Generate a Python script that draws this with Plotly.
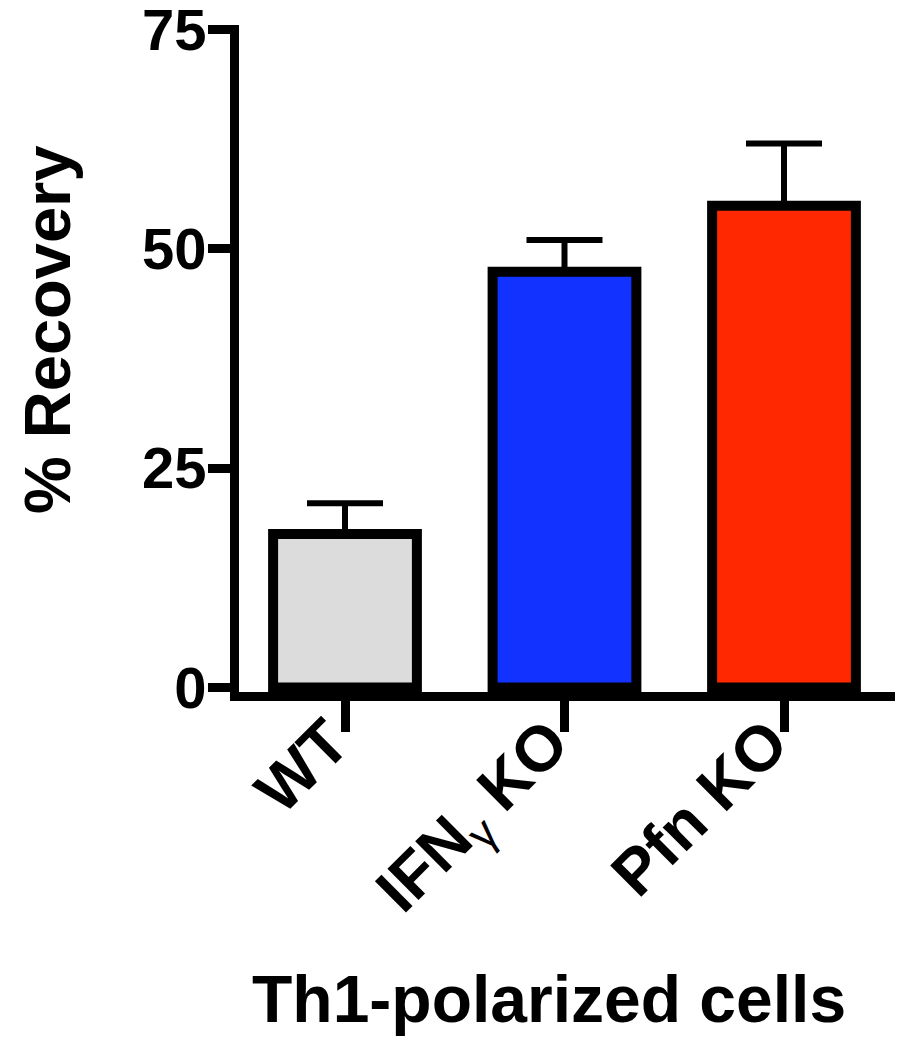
import plotly.graph_objects as go

categories = ["WT", "IFN<sub><span style=\"font-weight:normal\">γ</span></sub> KO", "Pfn KO"]
values = [17.5, 47.4, 54.9]
errors_up = [3.5, 3.6, 7.1]
colors = ["#DCDCDC", "#1232FF", "#FF2800"]
y_ticks = [0, 25, 50, 75]
x_title = "Th1-polarized cells"
y_title = "% Recovery"

W, H = 909, 1050
L, R, T, B = 231, 22, 17, 366
FONT = "Liberation Sans"

pw = W - L - R
ph = H - T - B
# axis scales (px per unit)
y_scale = 8.773
x_scale = 219.5
y_lo = -4.5 / y_scale
y_hi = y_lo + ph / y_scale
x_lo = -0.5 + 3.75 / x_scale
x_hi = x_lo + pw / x_scale

fig = go.Figure()
fig.add_trace(go.Bar(
    x=categories, y=values, width=0.655,
    marker=dict(color=colors, line=dict(color="black", width=10)),
    error_y=dict(type="data", array=errors_up, arrayminus=[0] * len(values),
                 symmetric=False, thickness=6, width=38, color="black"),
))

fig.update_layout(
    width=W, height=H,
    margin=dict(l=L, r=R, t=T, b=B, pad=0),
    plot_bgcolor="white", paper_bgcolor="white",
    showlegend=False,
    font=dict(family=FONT, color="black", weight="bold"),
)
fig.update_xaxes(
    range=[x_lo, x_hi], showline=True, linecolor="black", linewidth=9,
    ticks="outside", ticklen=31, tickwidth=9, tickcolor="black",
    tickangle=-45, tickfont=dict(size=64, family=FONT, weight="bold"),
    ticklabelshift=-15, ticklabelstandoff=-53, ticklabeloverflow="allow",
    showgrid=False, zeroline=False, automargin=False,
)
fig.update_yaxes(
    range=[y_lo, y_hi], tickvals=y_ticks, showline=True, linecolor="black", linewidth=9,
    ticks="outside", ticklen=22, tickwidth=9, tickcolor="black",
    tickfont=dict(size=58, family=FONT, weight="bold"),
    ticklabelstandoff=-10, ticklabeloverflow="allow",
    showgrid=False, zeroline=False, automargin=False,
)

fig.add_annotation(text=y_title, xref="paper", yref="paper",
                   x=(39 - L) / pw, y=(H - B - 322) / ph, xanchor="center", yanchor="middle",
                   textangle=-90, showarrow=False,
                   font=dict(size=65, family=FONT, weight="bold", color="black"))
fig.add_annotation(text=x_title, xref="paper", yref="paper",
                   x=(541 - L) / pw, y=(H - B - 991) / ph, xanchor="center", yanchor="middle",
                   showarrow=False,
                   font=dict(size=66, family=FONT, weight="bold", color="black"))

fig.write_html("out.html")
